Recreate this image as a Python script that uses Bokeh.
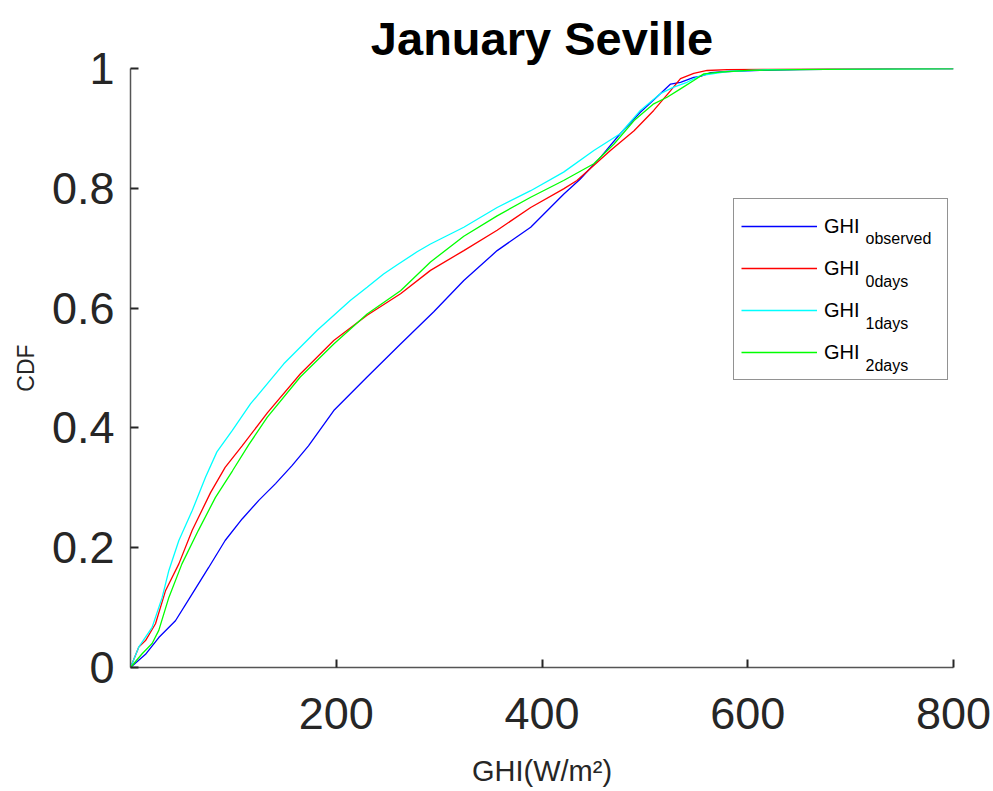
from bokeh.plotting import figure
from bokeh.models import (Legend, LegendItem, Label, FixedTicker, Range1d)
from bokeh.embed import file_html
from bokeh.resources import INLINE

# Empirical CDF of GHI for January in Seville: observed vs. forecasts
obs_x = [0, 14.6, 27.5, 43.7, 60, 76, 92, 108.5, 124.7, 141, 157, 173, 197.6, 230,
         262.5, 294.8, 324, 356.4, 389, 421, 437, 457, 476, 495.6, 515, 525, 534.6,
         547.5, 554, 564, 580, 612, 650, 700, 750, 800]
obs_y = [0, 0.022, 0.05, 0.078, 0.123, 0.167, 0.212, 0.248, 0.279, 0.307, 0.337, 0.37,
         0.429, 0.485, 0.54, 0.594, 0.646, 0.696, 0.735, 0.79, 0.815, 0.852, 0.891,
         0.927, 0.958, 0.974, 0.977, 0.985, 0.987, 0.993, 0.995, 0.997, 0.998, 0.999,
         1.0, 1.0]

d0_x = [0, 8, 14.6, 24.3, 34, 47, 60, 77.8, 92, 108.5, 133, 165, 197.6, 230, 262.5,
        291.6, 324, 356.4, 389, 421, 434, 466.5, 489.5, 508.6, 525, 534.6, 547.5,
        560.5, 580, 620, 700, 800]
d0_y = [0, 0.034, 0.045, 0.073, 0.128, 0.173, 0.229, 0.292, 0.334, 0.37, 0.425, 0.49,
        0.546, 0.588, 0.624, 0.663, 0.696, 0.73, 0.768, 0.799, 0.813, 0.863, 0.896,
        0.93, 0.963, 0.983, 0.992, 0.9967, 0.998, 0.999, 1.0, 1.0]

d1_x = [0, 8, 21, 30.8, 37.3, 47, 60, 73, 84, 99, 116.6, 149, 181.5, 213.9, 230, 246,
        259, 278.6, 291.6, 324, 356.4, 389, 421, 450.4, 476, 495.6, 515, 528, 541,
        554, 580, 620, 700, 800]
d1_y = [0, 0.034, 0.067, 0.117, 0.162, 0.212, 0.262, 0.318, 0.36, 0.396, 0.44, 0.507,
        0.563, 0.613, 0.635, 0.657, 0.672, 0.694, 0.707, 0.735, 0.768, 0.796, 0.827,
        0.863, 0.891, 0.93, 0.958, 0.969, 0.977, 0.988, 0.995, 0.998, 0.999, 1.0]

d2_x = [0, 11.3, 21, 27.5, 37.3, 50, 66, 82.6, 99, 115, 133, 165, 197.6, 230, 262.5,
        291.6, 324, 356.4, 389, 421, 450.4, 470, 489.5, 508.6, 521.6, 534.6, 547.5,
        557.3, 573, 600, 650, 700, 800]
d2_y = [0, 0.023, 0.04, 0.062, 0.117, 0.173, 0.229, 0.284, 0.328, 0.372, 0.418, 0.485,
        0.54, 0.59, 0.629, 0.677, 0.72, 0.754, 0.785, 0.813, 0.841, 0.874, 0.913,
        0.941, 0.952, 0.966, 0.98, 0.991, 0.994, 0.997, 0.998, 0.999, 1.0]

x_ticks = [200, 400, 600, 800]
y_ticks = [0, 0.2, 0.4, 0.6, 0.8, 1]
y_tick_labels = ["0", "0.2", "0.4", "0.6", "0.8", "1"]

series_names = ["observed", "0days", "1days", "2days"]
series_colors = ["#0000ff", "#ff0000", "#00ffff", "#00ff00"]

FONT = "Liberation Sans"
AX = "#262626"

p = figure(width=993, height=791, output_backend="svg", toolbar_location=None,
           x_range=Range1d(0, 800), y_range=Range1d(0, 1),
           min_border_left=130, min_border_right=40, min_border_top=68,
           min_border_bottom=124, title="January Seville")

p.title.text_font = FONT
p.title.text_font_size = "47px"
p.title.text_font_style = "bold"
p.title.text_color = "#000000"
p.title.align = "center"
p.title.vertical_align = "top"
p.title.offset = 0
p.title.standoff = 4

p.grid.visible = False
p.outline_line_color = None
p.background_fill_color = "white"
p.border_fill_color = "white"

for ax in (p.xaxis[0], p.yaxis[0]):
    ax.axis_line_color = "#555555"
    ax.axis_line_width = 1.5
    ax.major_tick_line_color = AX
    ax.major_tick_line_width = 2
    ax.major_tick_in = 8
    ax.major_tick_out = 0
    ax.minor_tick_line_color = None
    ax.major_label_text_font = FONT
    ax.major_label_text_font_size = "45px"
    ax.major_label_text_color = AX
    ax.axis_label_text_font = FONT
    ax.axis_label_text_font_style = "normal"
    ax.axis_label_text_color = AX

p.xaxis.ticker = FixedTicker(ticks=x_ticks)
p.yaxis.ticker = FixedTicker(ticks=y_ticks)
p.yaxis.major_label_overrides = {t: s for t, s in zip(y_ticks, y_tick_labels)}
p.xaxis.major_label_standoff = 30
p.yaxis.major_label_standoff = 16
p.xaxis.axis_label = "GHI(W/m\u00b2)"
p.xaxis.axis_label_text_font_size = "29px"
p.xaxis.axis_label_standoff = 23
p.yaxis.axis_label = "CDF"
p.yaxis.axis_label_text_font_size = "23px"
p.yaxis.axis_label_standoff = 10

renderers = []
for xs, ys, c in zip([obs_x, d0_x, d1_x, d2_x], [obs_y, d0_y, d1_y, d2_y], series_colors):
    renderers.append(p.line(xs, ys, line_color=c, line_width=1.3))

# the box is left unfilled so the subscript labels below remain visible
legend = Legend(items=[LegendItem(label="GHI", renderers=[r]) for r in renderers],
                location=(603, 287), padding=7, spacing=2, margin=0,
                glyph_width=76, glyph_height=40, label_height=40, label_width=116,
                label_standoff=7, border_line_color="#262626", border_line_width=1,
                background_fill_alpha=0,
                label_text_font=FONT, label_text_font_size="20px",
                label_text_color="#000000")
p.add_layout(legend)

# subscripts of the legend entries, placed after "GHI" in each row
sub_x = 714.5
sub_y0 = 0.716
sub_step = 0.0708
for i, name in enumerate(series_names):
    p.add_layout(Label(x=sub_x, y=sub_y0 - sub_step * i,
                       text=name, text_font=FONT, text_font_size="16px",
                       text_color="#000000", text_baseline="alphabetic"))

open("out.html", "w").write(file_html(p, INLINE))
